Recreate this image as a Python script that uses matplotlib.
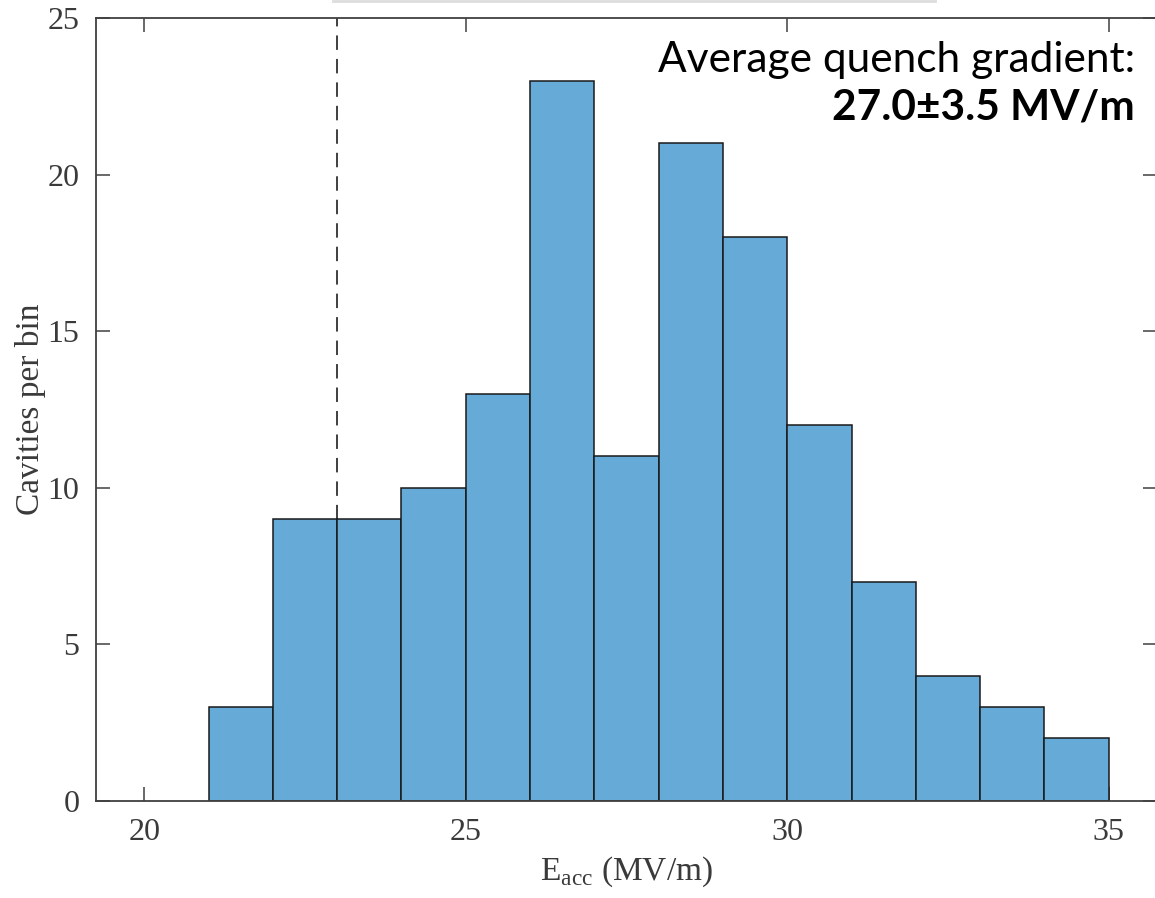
import matplotlib
matplotlib.use('Agg')
import numpy as np
import matplotlib.pyplot as plt
from matplotlib.lines import Line2D

# Histogram data (bin edges in MV/m, counts per bin)
bin_edges = [21, 22, 23, 24, 25, 26, 27, 28, 29, 30, 31, 32, 33, 34, 35]
counts = [3, 9, 9, 10, 13, 23, 11, 21, 18, 12, 7, 4, 3, 2]
threshold = 23
x_ticks = [20, 25, 30, 35]
y_ticks = [0, 5, 10, 15, 20, 25]

bar_color = '#66aad7'
axis_color = '#404040'
serif = ['Liberation Serif', 'DejaVu Serif']

fig = plt.figure(figsize=(11.55, 8.98), dpi=100)
ax = fig.add_axes([96/1155, 1 - 801/898, (1157 - 96)/1155, (801 - 18)/898])

# Threshold line behind the bars
ax.axvline(threshold, color='#303030', linestyle=(0, (8, 5)), linewidth=1.3, zorder=1)

edges = np.array(bin_edges)
ax.bar(edges[:-1], counts, width=np.diff(edges), align='edge',
       color=bar_color, edgecolor='#1a1a1a', linewidth=1.1, zorder=2)

ax.set_xlim(19.25, 35.75)
ax.set_ylim(0, 25)
ax.set_xticks(x_ticks)
ax.set_yticks(y_ticks)

for s in ax.spines.values():
    s.set_color(axis_color)
    s.set_linewidth(1.3)
ax.tick_params(direction='in', top=True, right=True, length=10, width=1.1,
               color=axis_color, labelcolor='#3a3a3a', labelsize=23)
ax.tick_params(axis='y', pad=12)
ax.tick_params(axis='x', pad=12)
for lab in ax.get_xticklabels() + ax.get_yticklabels():
    lab.set_family(serif)

ax.set_xlabel(r'E$_{\mathregular{acc}}$ (MV/m)', fontsize=24, family=serif,
              color='#3a3a3a', labelpad=6)
ax.set_ylabel('Cavities per bin', fontsize=24, family=serif, color='#3a3a3a',
              labelpad=1)

# Annotation text
ax.text(1135/1155, 1 - 60/898, 'Average quench gradient:', transform=fig.transFigure,
        ha='right', va='center', fontsize=30.5, family=['Lato', 'DejaVu Sans'], color='black')
ax.text(1135/1155, 1 - 108/898, '27.0±3.5 MV/m', transform=fig.transFigure,
        ha='right', va='center', fontsize=30.5, fontweight='bold',
        family=['Lato', 'DejaVu Sans'], color='black')

# faint line at the top edge
fig.add_artist(Line2D([333/1155, 935/1155], [1 - 1/898, 1 - 1/898],
                      transform=fig.transFigure, color='#dddddd', linewidth=2))

plt.savefig('out.png', dpi=100)
